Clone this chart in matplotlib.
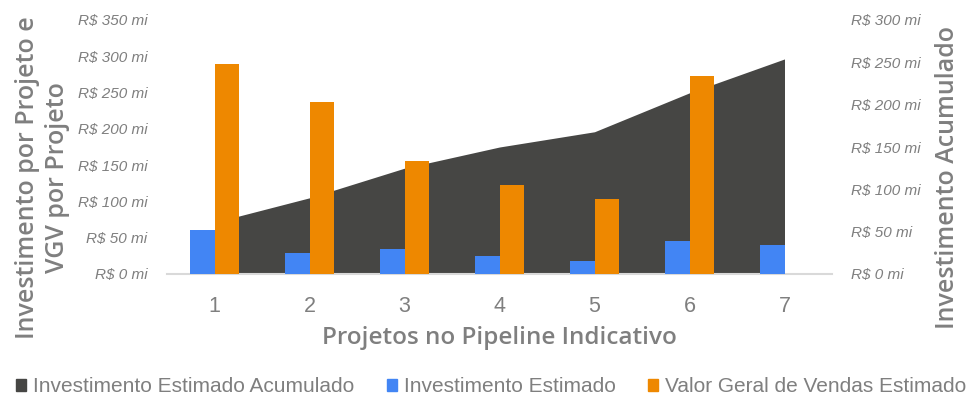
import matplotlib
matplotlib.use("Agg")
import matplotlib.pyplot as plt
import numpy as np
from matplotlib.patches import Patch

categories = ["1", "2", "3", "4", "5", "6", "7"]
investimento = [61, 29, 35, 25, 18, 46, 40]
vgv = [289, 237, 156, 123, 104, 273, 0]
acumulado = [61, 90, 125, 150, 168, 214, 254]
left_ticks = [0, 50, 100, 150, 200, 250, 300, 350]
right_ticks = [0, 50, 100, 150, 200, 250, 300]

C_AREA = "#464644"
C_BLUE = "#4285f4"
C_ORANGE = "#ee8800"
C_TEXT = "#7f7f7f"

NARROW = ["Liberation Sans Narrow", "Liberation Sans", "DejaVu Sans"]
TITLE = ["Open Sans", "DejaVu Sans"]

fig = plt.figure(figsize=(9.75, 3.98), dpi=100)
ax = fig.add_axes([167/975, (398-274)/398, (832-167)/975, (274-20)/398])
ax2 = ax.twinx()

x = np.arange(1, len(categories) + 1)
w = 0.263

ax2.fill_between(x, acumulado, 0, color=C_AREA, linewidth=0)
ax.bar(x - w/2, investimento, width=w, color=C_BLUE, zorder=3)
ax.bar(x[:6] + w/2, vgv[:6], width=w, color=C_ORANGE, zorder=3)

ax.set_zorder(ax2.get_zorder() + 1)
ax.patch.set_visible(False)

ax.set_xlim(0.5, 7.5)
ax.set_ylim(0, 350)
ax2.set_ylim(0, 300)

ax.set_yticks(left_ticks)
ax.set_yticklabels([f"R$ {v} mi" for v in left_ticks], fontstyle="italic",
                   family=["Liberation Sans", "DejaVu Sans"], fontsize=11, color=C_TEXT)
ax2.set_yticks(right_ticks)
ax2.set_yticklabels([f"R$ {v} mi" for v in right_ticks], fontstyle="italic",
                    family=["Liberation Sans", "DejaVu Sans"], fontsize=11, color=C_TEXT)
ax.set_xticks(x)
ax.set_xticklabels(categories, family=NARROW, fontsize=15.5, color=C_TEXT)

ax.tick_params(axis="y", length=0, pad=14)
ax2.tick_params(axis="y", length=0, pad=14)
ax.tick_params(axis="x", length=0, pad=16)

for a in (ax, ax2):
    for s in ("top", "left", "right", "bottom"):
        a.spines[s].set_visible(False)
ax.spines["bottom"].set_visible(True)
ax.spines["bottom"].set_color("#d9d9d9")
ax.spines["bottom"].set_linewidth(1.5)

ax.set_xlabel("Projetos no Pipeline Indicativo", family=TITLE, fontsize=17.5,
              fontweight="semibold", color=C_TEXT)
ax.xaxis.set_label_coords(0.5, (274-338)/254)
ax.xaxis.label.set_verticalalignment("center")
ax.set_ylabel("Investimento por Projeto e\nVGV por Projeto", family=TITLE, fontsize=18,
              fontweight="semibold", color=C_TEXT, linespacing=1.3)
ax.yaxis.set_label_coords((42.5-167)/665, 0.378)
ax.yaxis.label.set_verticalalignment("center")
ax2.set_ylabel("Investimento Acumulado", family=TITLE, fontsize=18,
               fontweight="semibold", color=C_TEXT)
ax2.yaxis.set_label_coords((948-167)/665, 0.378)
ax2.yaxis.label.set_verticalalignment("center")

handles = [Patch(color=C_AREA), Patch(color=C_BLUE), Patch(color=C_ORANGE)]
labels = ["Investimento Estimado Acumulado", "Investimento Estimado",
          "Valor Geral de Vendas Estimado"]
leg = fig.legend(handles, labels, loc="center", bbox_to_anchor=(0.5036, (398-387)/398), ncol=3,
                 frameon=False, prop={"family": NARROW, "size": 15},
                 handlelength=0.48, handleheight=0.48, handletextpad=0.34,
                 columnspacing=1.54, labelcolor=C_TEXT, borderpad=0)

fig.savefig("out.png", dpi=100)
